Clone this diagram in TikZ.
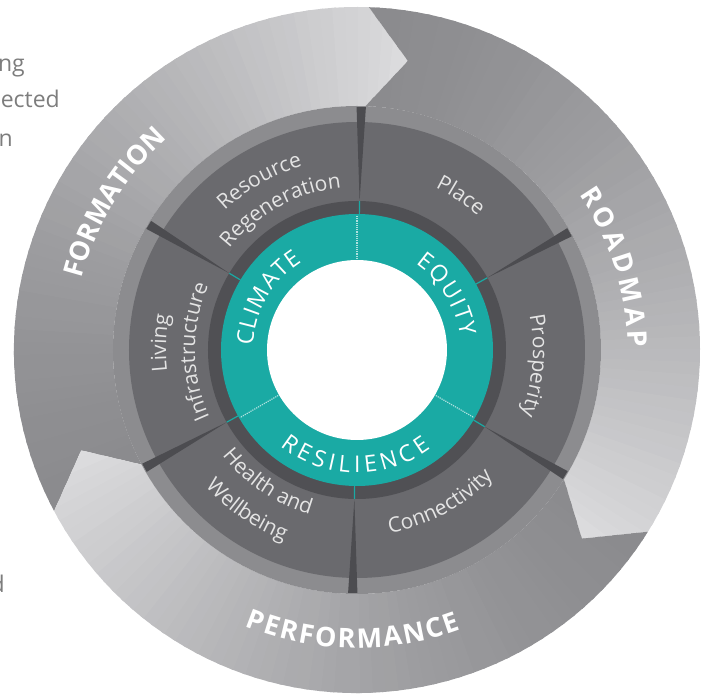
\documentclass[tikz,border=0pt]{standalone}
\usepackage{fontspec}
\setmainfont{Open Sans}
\usetikzlibrary{decorations.text}

\definecolor{arrowdark}{RGB}{139,139,142}
\definecolor{arrowlight}{RGB}{222,222,224}
\definecolor{bandgray}{RGB}{140,140,143}
\definecolor{seggray}{RGB}{106,106,110}
\definecolor{segline}{RGB}{76,76,80}
\definecolor{ringdark}{RGB}{80,80,84}
\definecolor{tealring}{RGB}{26,170,164}
\definecolor{seglabel}{RGB}{228,228,228}
\definecolor{sidetext}{RGB}{125,125,125}

\newcommand\segfont{\fontsize{21}{25}\selectfont}
\newcommand\ringfont{\fontsize{23}{28}\selectfont}
\newcommand\arrowfont{\bfseries\fontsize{27}{32}\selectfont}

\begin{document}
\begin{tikzpicture}[x=1pt, y=1pt,
    seg text/.style={decorate, decoration={text along path, text align=center, text color=seglabel, text={|\segfont|#1}}},
    ring text/.style={decorate, decoration={text along path, text align={fit to path}, text color=white, text={|\ringfont|#1}}},
    arrow text/.style={decorate, decoration={text along path, text align={fit to path}, text color=white, text={|\arrowfont|#1}}},
    side/.style={text=sidetext, font=\fontsize{23}{28}\selectfont, anchor=base east, inner sep=0pt},
    dotline/.style={tealring!35!white, densely dotted, line width=1.2pt}]
\useasboundingbox (-357,-346) rectangle (348,350);

% text cut by the left edge
\node[side] (ng) at (-332,278) {ng};
\node[side] (ected) at (-297,242) {ected};
\node[side] (n) at (-344,203) {n};
\node[side] (d) at (-352,-243) {d};

% outer arrows, tail -> head
\foreach \s/\e in {208/88, 88/-32, -32/-152} {
  \begin{scope}
    \clip (\s:343pt) arc[start angle=\s, end angle=\e, radius=343pt] -- (\e-8:293.5pt)
      -- (\e:244pt) arc[start angle=\e, end angle=\s, radius=244pt] -- (\s-8:293.5pt) -- cycle;
    \foreach \k in {0,...,59} {
      \pgfmathsetmacro\ta{\s+1-(\s-\e+10)*\k/60}
      \pgfmathsetmacro\tb{\s+1-(\s-\e+10)*(\k+1.3)/60}
      \pgfmathtruncatemacro\p{100*((\k+0.5)/60)^1.5}
      \fill[arrowlight!\p!arrowdark] (0,0) -- (\ta:380pt) -- (\tb:380pt) -- cycle;
    }
  \end{scope}
}

% rings
\fill[bandgray] (0,0) circle[radius=244pt];
\fill[seggray] (0,0) circle[radius=228pt];
\foreach \d in {89,29,-31,-91,-151,149}
  \fill[segline] (\d:149pt) -- (\d+1.1:243pt) -- (\d-1.1:243pt) -- cycle;
\fill[ringdark] (0,0) circle[radius=149pt];
\fill[tealring] (0,0) circle[radius=136pt];
\fill[white] (0,0) circle[radius=90pt];
\foreach \d in {90,-30,210}
  \draw[dotline] (\d:91pt) -- (\d:135pt);
\foreach \d in {89,29,-31,-91,-151,149}
  \draw[tealring, line width=1.2pt] (\d:136pt) -- (\d:149pt);

% arrow words
\path[arrow text=FORMATION] (165.5:284pt) arc[start angle=165.5, end angle=131.8, radius=284pt];
\path[arrow text=ROADMAP] (35:271pt) arc[start angle=35, end angle=0.5, radius=271pt];
\path[arrow text=PERFORMANCE] (247.8:298pt) arc[start angle=247.8, end angle=290.4, radius=298pt];

% teal words
\path[ring text=CLIMATE] (177.8:104pt) arc[start angle=177.8, end angle=122, radius=104pt];
\path[ring text=EQUITY] (55.7:104pt) arc[start angle=55.7, end angle=7.4, radius=104pt];
\path[ring text=RESILIENCE] (231.2:123pt) arc[start angle=231.2, end angle=306.8, radius=123pt];

% segment words
\path[seg text=Resource] (160:192pt) arc[start angle=160, end angle=80, radius=192pt];
\path[seg text=Regeneration] (158.6:163pt) arc[start angle=158.6, end angle=78.6, radius=163pt];
\path[seg text=Place] (86:180pt) arc[start angle=86, end angle=26, radius=180pt];
\path[seg text=Prosperity] (30:176pt) arc[start angle=30, end angle=-40, radius=176pt];
\path[seg text=Connectivity] (258.6:186pt) arc[start angle=258.6, end angle=338.6, radius=186pt];
\path[seg text=Health and] (196:171pt) arc[start angle=196, end angle=276, radius=171pt];
\path[seg text=Wellbeing] (195.5:204pt) arc[start angle=195.5, end angle=275.5, radius=204pt];
\path[seg text=Living] (218:191pt) arc[start angle=218, end angle=138, radius=191pt];
\path[seg text=Infrastructure] (220.5:162pt) arc[start angle=220.5, end angle=140.5, radius=162pt];
\end{tikzpicture}
\end{document}
